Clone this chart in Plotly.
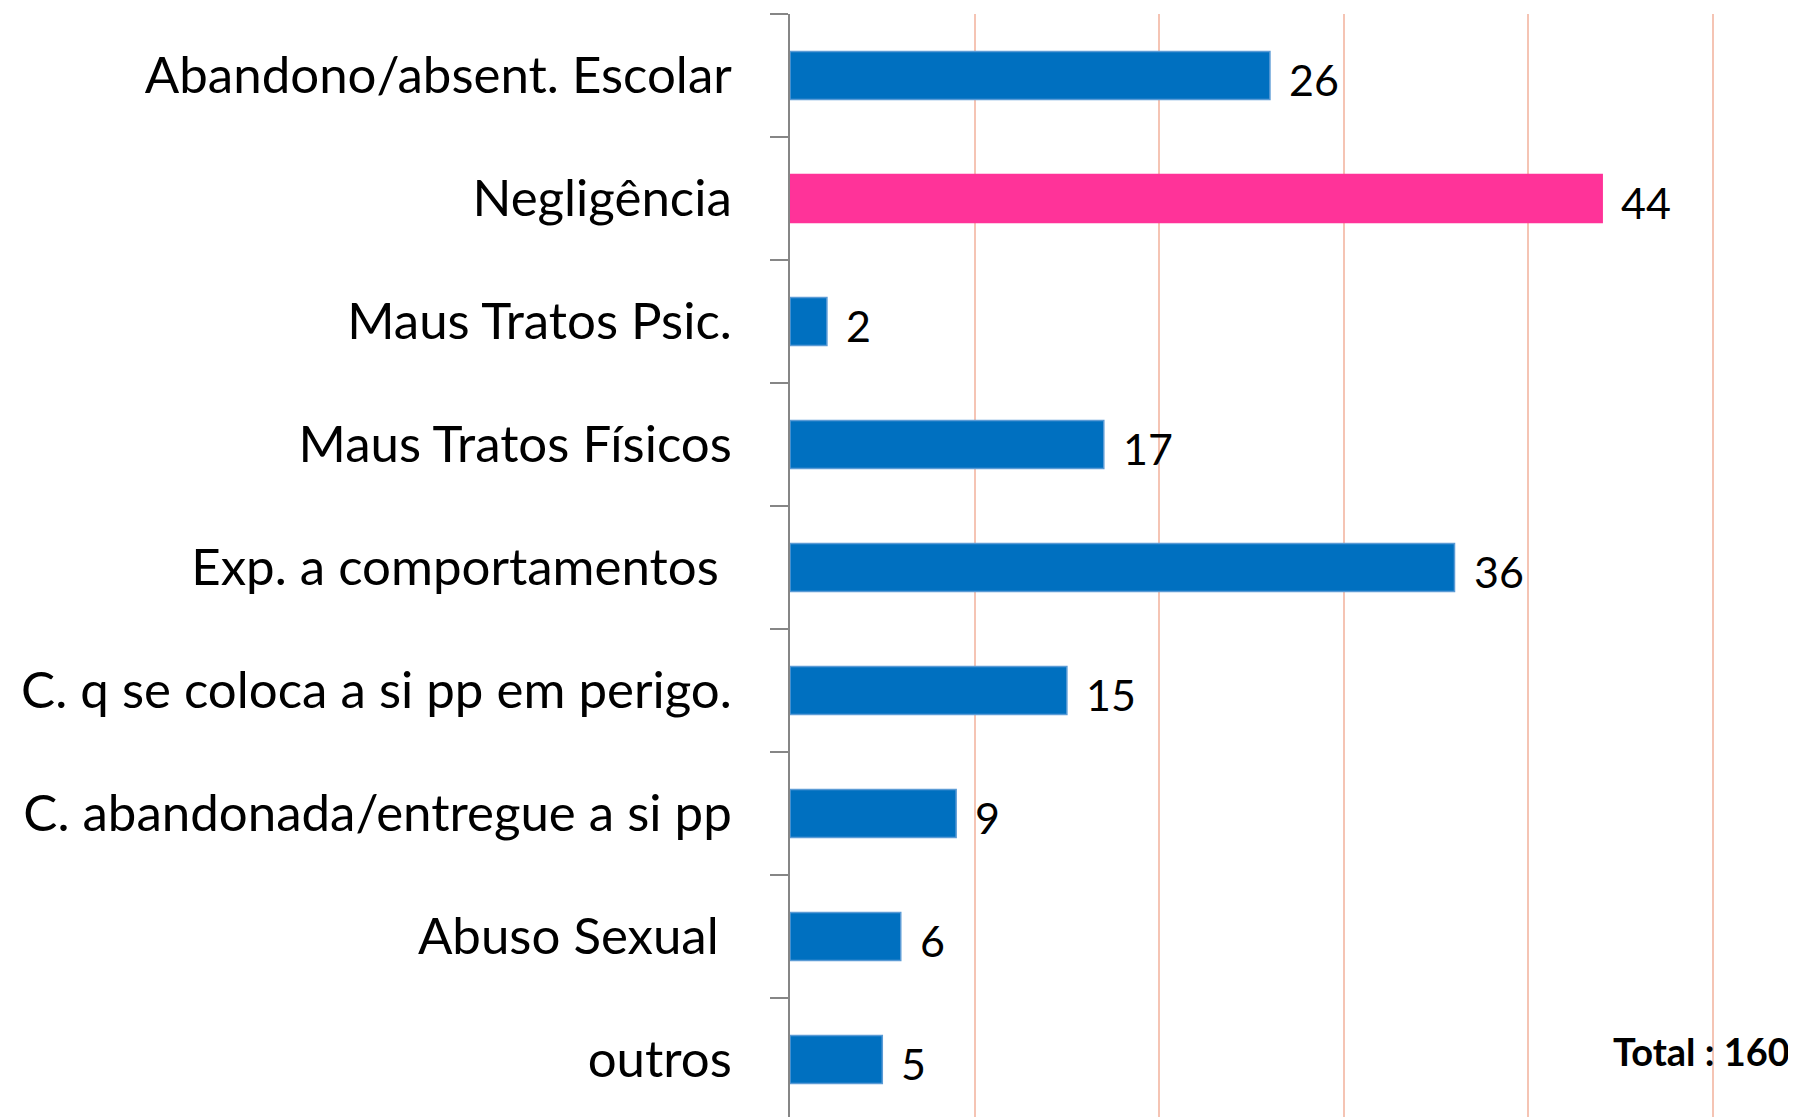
import plotly.graph_objects as go

categories = [
    "Abandono/absent. Escolar",
    "Negligência",
    "Maus Tratos Psic.",
    "Maus Tratos Físicos",
    "Exp. a comportamentos\u00a0",
    "C. q se coloca a si pp em perigo.",
    "C. abandonada/entregue a si pp",
    "Abuso Sexual\u00a0",
    "outros",
]
values = [26, 44, 2, 17, 36, 15, 9, 6, 5]
bar_colors = ["#0070C0", "#FF3399", "#0070C0", "#0070C0", "#0070C0",
              "#0070C0", "#0070C0", "#0070C0", "#0070C0"]
edge_colors = ["#5B9BD5", "#FF3399", "#5B9BD5", "#5B9BD5", "#5B9BD5",
               "#5B9BD5", "#5B9BD5", "#5B9BD5", "#5B9BD5"]
total_text = "Total : 160"

fig = go.Figure()
fig.add_trace(go.Bar(
    x=values, y=categories, orientation="h",
    marker=dict(color=bar_colors, line=dict(color=edge_colors, width=1.5)),
    width=0.39, showlegend=False, hoverinfo="x+y",
))

for v, c in zip(values, categories):
    fig.add_annotation(x=v, y=c, text=str(v), showarrow=False,
                       xanchor="left", yanchor="middle", xshift=17, yshift=-4,
                       font=dict(family="Lato", size=43, color="#000000"))

fig.add_annotation(xref="paper", yref="paper", x=0.996, y=0.06, text=total_text,
                   showarrow=False, xanchor="right", yanchor="middle",
                   font=dict(family="Lato", size=38, color="#000000", weight="bold"))

fig.update_layout(
    width=1788, height=1109,
    margin=dict(l=782, r=0, t=6, b=0),
    paper_bgcolor="white", plot_bgcolor="white",
    bargap=0.61,
)
fig.update_xaxes(range=[0, 54.5], dtick=10, showgrid=True, gridcolor="#F5C4B4", gridwidth=2,
                 showticklabels=False, zeroline=False, showline=False, ticks="")
fig.update_yaxes(categoryorder="array", categoryarray=categories, automargin=False,
                 range=[8.467, -0.5], tickson="boundaries", ticks="outside", ticklen=18,
                 tickcolor="#868686", tickwidth=2, showline=True, linecolor="#868686", linewidth=2,
                 showgrid=False, zeroline=False,
                 tickfont=dict(family="Lato", size=51, color="#000000"),
                 ticklabelstandoff=46)

fig.write_html("out.html")
